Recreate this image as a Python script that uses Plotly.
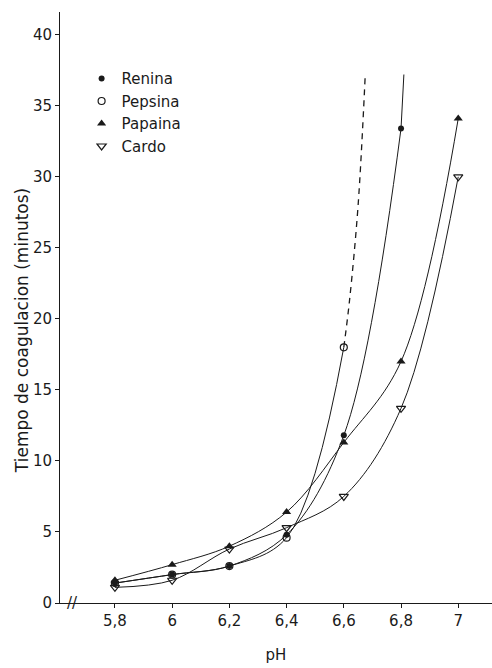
import plotly.graph_objects as go

# ---- data ----
renina_x = [5.8, 6.0, 6.2, 6.4, 6.6, 6.8]
renina_y = [1.4, 2.0, 2.6, 4.8, 11.8, 33.4]
renina_ext_x = [6.8, 6.81]
renina_ext_y = [33.4, 37.2]

pepsina_x = [5.8, 6.0, 6.2, 6.4, 6.6]
pepsina_y = [1.4, 2.0, 2.6, 4.6, 18.0]
pepsina_ext_x = [6.6, 6.62, 6.65, 6.675]
pepsina_ext_y = [18.0, 21.3, 28.0, 37.2]

papaina_x = [5.8, 6.0, 6.2, 6.4, 6.6, 6.8, 7.0]
papaina_y = [1.6, 2.7, 4.0, 6.4, 11.3, 17.0, 34.1]

cardo_x = [5.8, 6.0, 6.2, 6.4, 6.6, 6.8, 7.0]
cardo_y = [1.1, 1.6, 3.8, 5.3, 7.5, 13.7, 30.0]

x_ticks = [5.8, 6.0, 6.2, 6.4, 6.6, 6.8, 7.0]
x_ticktext = ["5,8", "6", "6,2", "6,4", "6,6", "6,8", "7"]
y_ticks = [0, 5, 10, 15, 20, 25, 30, 35, 40]

FONT = "DejaVu Sans"
INK = "#1a1a1a"

fig = go.Figure()

line_style = dict(color=INK, width=1, shape="spline", smoothing=1.0)

# curves
fig.add_trace(go.Scatter(x=renina_x, y=renina_y, mode="lines", line=line_style,
                         showlegend=False, hoverinfo="skip"))
fig.add_trace(go.Scatter(x=renina_ext_x, y=renina_ext_y, mode="lines",
                         line=dict(color=INK, width=1),
                         showlegend=False, hoverinfo="skip"))
fig.add_trace(go.Scatter(x=pepsina_x, y=pepsina_y, mode="lines", line=line_style,
                         showlegend=False, hoverinfo="skip"))
fig.add_trace(go.Scatter(x=pepsina_ext_x, y=pepsina_ext_y, mode="lines",
                         line=dict(color=INK, width=1.3, dash="6px,5px", shape="spline"),
                         showlegend=False, hoverinfo="skip"))
fig.add_trace(go.Scatter(x=papaina_x, y=papaina_y, mode="lines", line=line_style,
                         showlegend=False, hoverinfo="skip"))
fig.add_trace(go.Scatter(x=cardo_x, y=cardo_y, mode="lines", line=line_style,
                         showlegend=False, hoverinfo="skip"))

# markers (also legend entries)
fig.add_trace(go.Scatter(x=renina_x, y=renina_y, mode="markers", name="Renina",
                         legendgroup="a",
                         marker=dict(symbol="circle", size=6, color=INK)))
fig.add_trace(go.Scatter(x=pepsina_x, y=pepsina_y, mode="markers", name="Pepsina",
                         legendgroup="b",
                         marker=dict(symbol="circle-open", size=7, color=INK,
                                     line=dict(width=1.2, color=INK))))
fig.add_trace(go.Scatter(x=papaina_x, y=papaina_y, mode="markers", name="Papaina",
                         legendgroup="c",
                         marker=dict(symbol="triangle-up", size=8, color=INK)))
fig.add_trace(go.Scatter(x=cardo_x, y=cardo_y, mode="markers", name="Cardo",
                         legendgroup="d",
                         marker=dict(symbol="triangle-down-open", size=8, color=INK,
                                     line=dict(width=1.2, color=INK))))

fig.update_layout(
    width=492, height=668,
    margin=dict(l=60, r=0, t=12, b=65),
    paper_bgcolor="white", plot_bgcolor="white",
    font=dict(family=FONT, size=15, color=INK),
    legend=dict(x=0.05, y=0.915, xanchor="left", yanchor="top",
                bgcolor="rgba(0,0,0,0)", font=dict(size=15, family=FONT),
                tracegroupgap=0, itemwidth=30),
    xaxis=dict(range=[5.608, 7.118], showgrid=False, zeroline=False,
               showline=True, linecolor=INK, linewidth=1,
               ticks="outside", ticklen=4, tickcolor=INK,
               tickvals=x_ticks, ticktext=x_ticktext,
               tickfont=dict(size=15),
               title=dict(text="pH", font=dict(size=15), standoff=20)),
    yaxis=dict(range=[0, 41.6], showgrid=False, zeroline=False,
               showline=True, linecolor=INK, linewidth=1,
               ticks="outside", ticklen=4, tickcolor=INK,
               tickvals=y_ticks, tickfont=dict(size=15)),
    annotations=[
        dict(text="Tiempo de coagulacion (minutos)", textangle=-90,
             xref="paper", yref="paper", x=0, y=0.46, xshift=-38,
             xanchor="center", yanchor="middle",
             showarrow=False, font=dict(size=17, family=FONT)),
        dict(text="//", xref="paper", yref="paper", x=0.028, y=0,
             xanchor="center", yanchor="middle",
             showarrow=False, font=dict(size=15, family=FONT)),
    ],
)

fig.write_html("out.html")
